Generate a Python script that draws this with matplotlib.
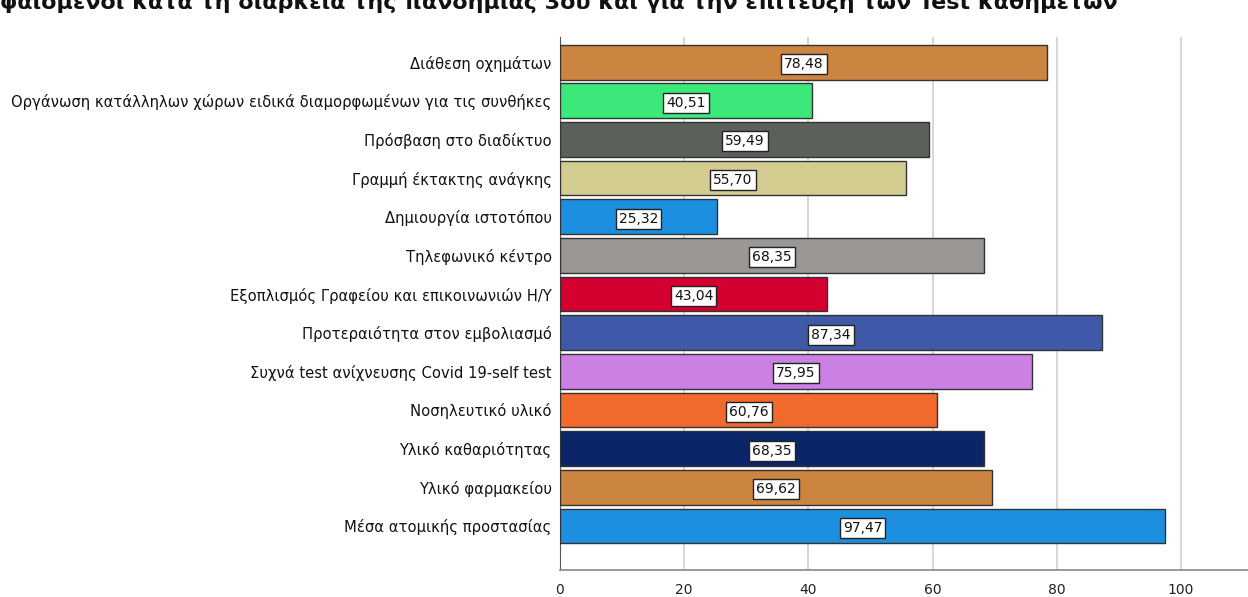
import matplotlib
matplotlib.use("Agg")
import matplotlib.pyplot as plt
import numpy as np

categories = [
    "Διάθεση οχημάτων",
    "Οργάνωση κατάλληλων χώρων ειδικά διαμορφωμένων για τις συνθήκες",
    "Πρόσβαση στο διαδίκτυο",
    "Γραμμή έκτακτης ανάγκης",
    "Δημιουργία ιστοτόπου",
    "Τηλεφωνικό κέντρο",
    "Εξοπλισμός Γραφείου και επικοινωνιών Η/Υ",
    "Προτεραιότητα στον εμβολιασμό",
    "Συχνά test ανίχνευσης Covid 19-self test",
    "Νοσηλευτικό υλικό",
    "Υλικό καθαριότητας",
    "Υλικό φαρμακείου",
    "Μέσα ατομικής προστασίας",
]
values = [78.48, 40.51, 59.49, 55.70, 25.32, 68.35, 43.04, 87.34, 75.95, 60.76, 68.35, 69.62, 97.47]
colors = ["#CC8540", "#3DE87A", "#5A615A", "#D2CC90", "#1D8FE1", "#9A9795", "#D4002F",
          "#3D59A8", "#CB80E3", "#F2692C", "#0B2569", "#CC8540", "#1D8FE1"]
xticks = [0, 20, 40, 60, 80, 100]
title = "φαιόμενοι κατά τη διάρκεια της πανδημίας 3ου και για την επίτευξη των Test καθημέτων"

plt.rcParams['font.family'] = ['DejaVu Sans']

fig = plt.figure(figsize=(12.48, 5.97), dpi=100)
W, H = 1248, 597
ax = fig.add_axes([560 / W, (H - 570) / H, (W - 560) / W, (570 - 37) / H])

y = np.arange(len(categories))
ax.barh(y, values, height=0.9, color=colors, edgecolor="#333333", linewidth=1, zorder=3)
for yi, v in zip(y, values):
    ax.text(v / 2, yi + 0.05, f"{v:.2f}".replace(".", ","), ha="center", va="center",
            fontsize=10, color="#111111", zorder=4,
            bbox=dict(boxstyle="square,pad=0.22", facecolor="white", edgecolor="#222222", linewidth=1))

ax.set_ylim(len(categories) - 1 + 1.14, -0.65)
ax.set_xlim(0, 110.8)
ax.set_yticks(y)
ax.set_yticklabels(categories, fontsize=10.6, color="#111111")
ax.set_xticks(xticks)
ax.set_xticklabels([str(t) for t in xticks], fontsize=10, color="#222222")
ax.tick_params(axis="y", length=0, pad=6)
ax.tick_params(axis="x", length=0, pad=9)
ax.grid(axis="x", color="#D0D0D0", linewidth=1.2, zorder=0)
for s in ["top", "right"]:
    ax.spines[s].set_visible(False)
ax.spines["left"].set_color("#555555")
ax.spines["bottom"].set_color("#888888")
ax.spines["bottom"].set_linewidth(1.2)

fig.text(0.0, 1.0 - 2 / H, title, ha="left", va="center", fontsize=16, fontweight="bold", color="#111111")

fig.savefig("out.png", dpi=100)
